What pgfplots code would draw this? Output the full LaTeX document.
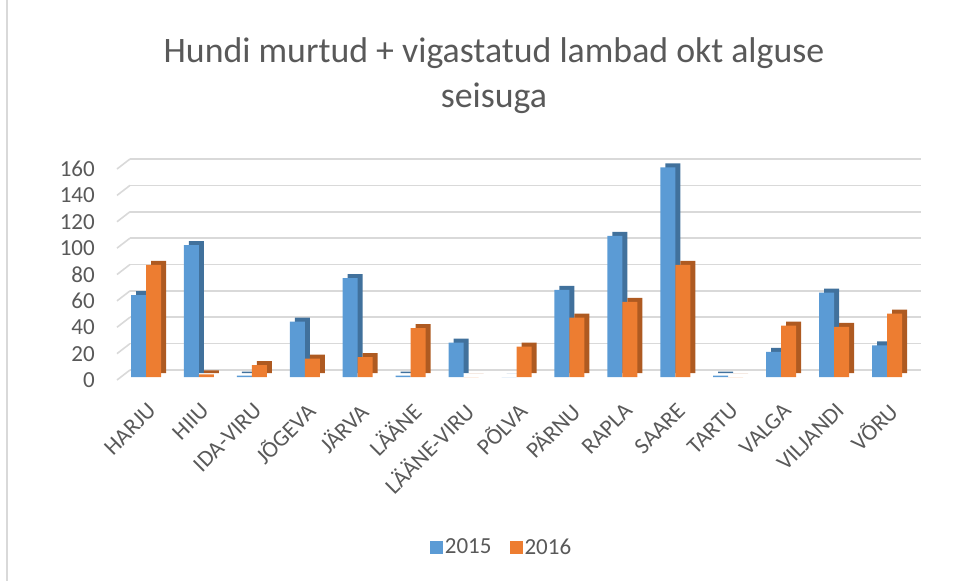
\documentclass[border=0pt]{standalone}
\usepackage{fontspec}
\setmainfont{Carlito}
\usepackage{pgfplots}
\usepackage{pgfplotstable}
\pgfplotsset{compat=1.18}
\definecolor{blueF}{HTML}{5B9BD5}
\definecolor{blueS}{HTML}{41719C}
\definecolor{orF}{HTML}{ED7D31}
\definecolor{orS}{HTML}{AE5A21}
\definecolor{txt}{HTML}{595959}
\definecolor{gridc}{HTML}{D9D9D9}
\newcommand{\tfont}{\fontsize{23bp}{27bp}\selectfont}
\pgfplotstableread{
x y15 y16
0 62 85
1 100 2
2 1 9
3 42 14
4 75 15
5 1 37
6 26 0
7 0 23
8 66 45
9 107 57
10 159 85
11 1 0
12 19 39
13 64 38
14 24 48
}\datatable
\begin{document}
\begin{tikzpicture}
\useasboundingbox (0,0) rectangle (974bp,-581bp);
\draw[gridc, line width=2bp] (7bp,0) -- (7bp,-581bp);
\node[anchor=base, text=txt, font=\fontsize{35.8bp}{44bp}\selectfont, inner sep=0pt] at (494bp,-62.7bp) {Hundi murtud + vigastatud lambad okt alguse};
\node[anchor=base, text=txt, font=\fontsize{35.8bp}{44bp}\selectfont, inner sep=0pt] at (494bp,-107bp) {seisuga};
\begin{axis}[
  at={(130bp,-377bp)}, anchor=south west,
  scale only axis, width=791bp, height=211bp,
  xmin=-0.3023, xmax=14.642, ymin=0, ymax=160,
  ytick={0,20,...,160},
  xtick={0,...,14},
  xticklabels={HARJU,HIIU,IDA-VIRU,JÕGEVA,JÄRVA,LÄÄNE,LÄÄNE-VIRU,PÕLVA,PÄRNU,RAPLA,SAARE,TARTU,VALGA,VILJANDI,VÕRU},
  clip=false,
  axis lines*=left, axis line style={draw=none},
  tick style={draw=none}, major tick length=0pt,
  ymajorgrids, grid style={draw=gridc, line width=1.6bp, yshift=7bp},
  tick label style={font=\tfont, text=txt},
  every tick label/.append style={font=\tfont},
  /pgf/number format/assume math mode=true,
  yticklabel style={font=\tfont, anchor=east, inner sep=0pt, xshift=-35bp, yshift=-3bp},
  xticklabel style={font=\tfont, xshift=6bp, yshift=-30bp, rotate=45, anchor=east, inner sep=0pt},
  legend style={at={(0.4697,-0.8057)}, anchor=center, draw=none, fill=none,
    legend columns=2, font=\tfont, text=txt,
    /tikz/every even column/.append style={column sep=16bp}},
  legend image code/.code={\fill[#1, draw=none] (0bp,-6.5bp) rectangle (13bp,6.5bp);},
]
\pgfplotsinvokeforeach{0,20,...,160}{
  \draw[gridc, line width=1.6bp] ([xshift=-13bp,yshift=-3bp]axis cs:-0.3023,#1) -- ([yshift=7bp]axis cs:-0.3023,#1);
}
\addplot[ybar, bar width=15bp, bar shift=-2.5bp, fill=blueS, draw=none, yshift=4bp, forget plot] table[x=x, y=y15] {\datatable};
\addplot[ybar, bar width=15bp, bar shift=-7.5bp, fill=blueF, draw=none] table[x=x, y=y15] {\datatable};
\addlegendentry{2015}
\addplot[ybar, bar width=15bp, bar shift=12.5bp, fill=orS, draw=none, yshift=4bp, forget plot] table[x=x, y=y16] {\datatable};
\addplot[ybar, bar width=15bp, bar shift=7.5bp, fill=orF, draw=none] table[x=x, y=y16] {\datatable};
\addlegendentry{2016}
\end{axis}
\end{tikzpicture}
\end{document}
